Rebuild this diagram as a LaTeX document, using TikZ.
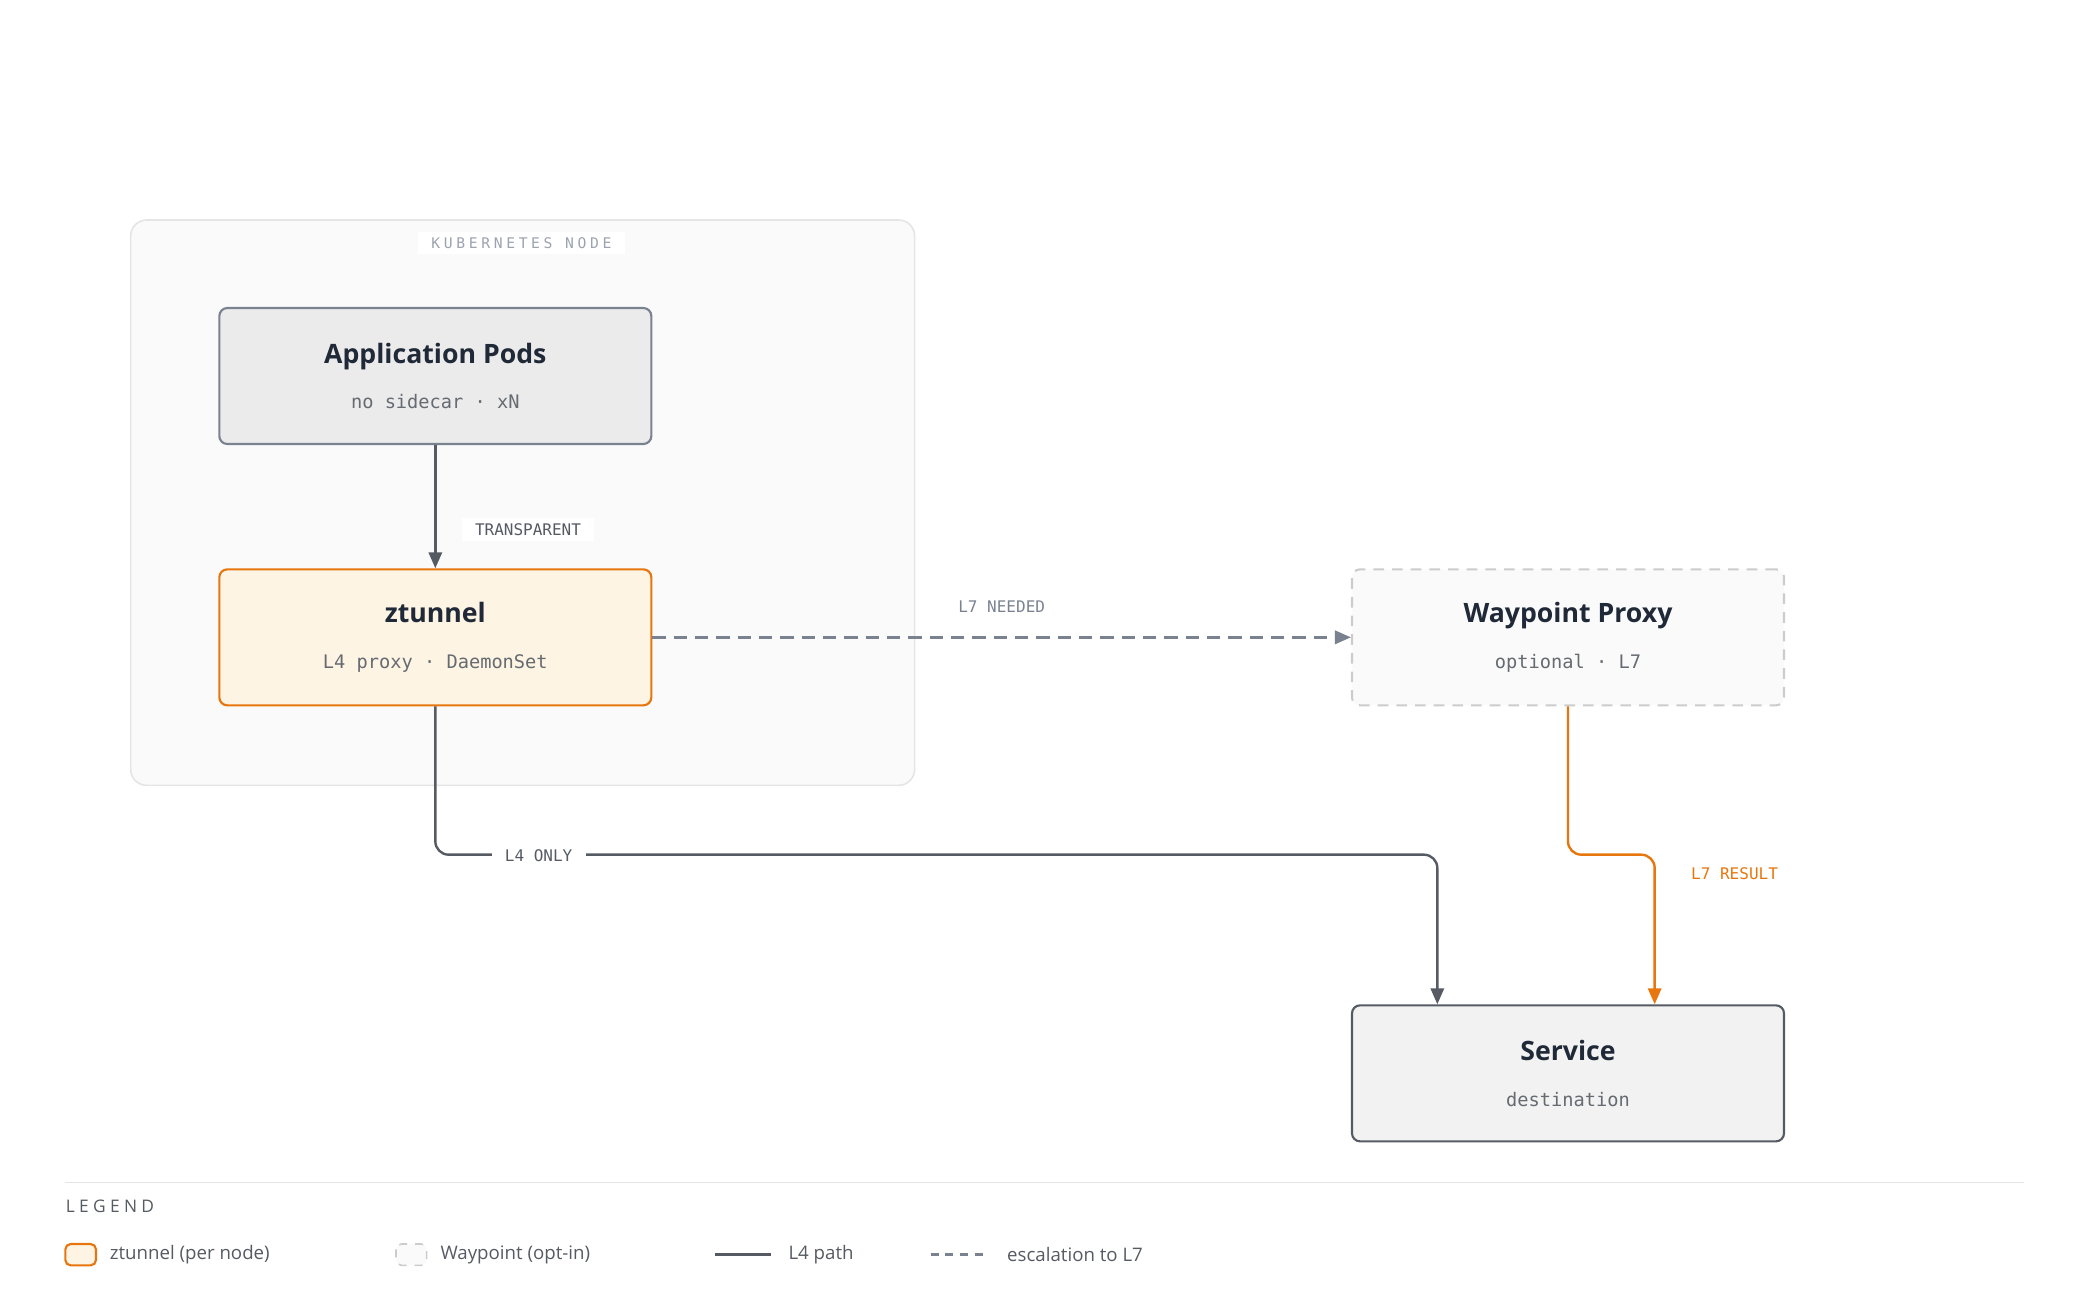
\documentclass[tikz,border=0pt]{standalone}
\usepackage{fontspec}
\setmainfont{Open Sans}
\setmonofont{DejaVu Sans Mono}
\usetikzlibrary{arrows.meta,positioning}
\definecolor{ink}{HTML}{1F2937}
\definecolor{path}{HTML}{555A63}
\definecolor{esc}{HTML}{7A8290}
\definecolor{orng}{HTML}{E8760F}
\definecolor{soft}{HTML}{9CA3AF}
\definecolor{cream}{HTML}{FDF4E3}
\tikzset{
  box/.style = {rounded corners=3pt, line width=0.8pt, minimum width=162pt, minimum height=51pt, align=center, inner sep=0pt},
  tag/.style = {font=\ttfamily\fontsize{6}{7}\selectfont, fill=white, inner xsep=5pt, inner ysep=2pt},
  l4/.style = {draw=path, line width=0.9pt, rounded corners=5pt, -{Triangle[length=6pt,width=5pt]}},
}
\newcommand{\boxtext}[2]{{\fontsize{10}{12}\selectfont\bfseries #1}\\[5pt]{\ttfamily\fontsize{7}{8}\selectfont\color{path!90} #2}}
\begin{document}
\begin{tikzpicture}[x = 0.5pt, y = -0.5pt]
    \useasboundingbox (0,0) rectangle (1560,976);
    % kubernetes node
    \draw[draw=black!10, fill=black!2, rounded corners=6pt, line width=0.6pt] (98,165) rectangle (686,589);
    \node[tag, text=soft, font=\ttfamily\fontsize{5.5}{6}\selectfont\addfontfeature{LetterSpace=25}] (knode) at (391,182) {KUBERNETES NODE};
    % boxes
    \node[box, draw=esc, fill=black!8, text=ink] (pods) at (326.5,282) {\boxtext{Application Pods}{no sidecar · xN}};
    \node[box, draw=orng, fill=cream, text=ink] (ztunnel) at (326.5,478) {\boxtext{ztunnel}{L4 proxy · DaemonSet}};
    \node[box, draw=black!20, dashed, dash pattern=on 4pt off 3pt, fill=black!2, text=ink] (waypoint) at (1176,478) {\boxtext{Waypoint Proxy}{optional · L7}};
    \node[box, draw=path, fill=black!5, text=ink] (service) at (1176,805) {\boxtext{Service}{destination}};
    \coordinate (l4turn) at (1078,641);
    \coordinate (l7turn) at (1241,641);
    % connectors
    \draw[l4] (pods) -- (ztunnel);
    \node[tag, text=path] (transp) at (396,397) {TRANSPARENT};
    \draw[l4, draw=esc, dash pattern=on 5pt off 3pt] (ztunnel) -- node[above=7pt, tag, fill=none, text=esc] (need) {L7 NEEDED} (waypoint);
    \draw[l4] (ztunnel.south) |- (l4turn) -- (l4turn |- service.north);
    \node[tag, text=path] (l4only) at (404,642) {L4 ONLY};
    \draw[l4, draw=orng, {-Triangle[length=6pt,width=5pt,fill=orng]}] (waypoint.south) |- (l7turn) -- (l7turn |- service.north);
    \node[tag, text=orng, anchor=west] (l7res) at (1258,655) {L7 RESULT};
    % legend
    \draw[black!10, line width=0.6pt] (49,887) -- (1518,887);
    \node[anchor=west, inner sep=0pt, text=path, font=\fontsize{6.5}{7}\selectfont\addfontfeature{LetterSpace=25}] (legend) at (49,905) {LEGEND};
    \draw[orng, fill=cream, rounded corners=2pt, line width=0.8pt] (49,933) rectangle (72,949);
    \node[anchor=west, inner sep=0pt, text=path, font=\fontsize{7}{8}\selectfont] (lz) at (82,941) {ztunnel (per node)};
    \draw[black!20, fill=black!2, dashed, rounded corners=2pt, line width=0.6pt] (297,933) rectangle (320,949);
    \node[anchor=west, inner sep=0pt, text=path, font=\fontsize{7}{8}\selectfont] (lw) at (330,941) {Waypoint (opt-in)};
    \draw[path, line width=1.2pt] (536,941) -- (578,941);
    \node[anchor=west, inner sep=0pt, text=path, font=\fontsize{7}{8}\selectfont] (lp) at (591,941) {L4 path};
    \draw[esc, line width=1pt, dash pattern=on 3pt off 2.5pt] (698,941) -- (740,941);
    \node[anchor=west, inner sep=0pt, text=path, font=\fontsize{7}{8}\selectfont] (le) at (755,941) {escalation to L7};
\end{tikzpicture}
\end{document}
